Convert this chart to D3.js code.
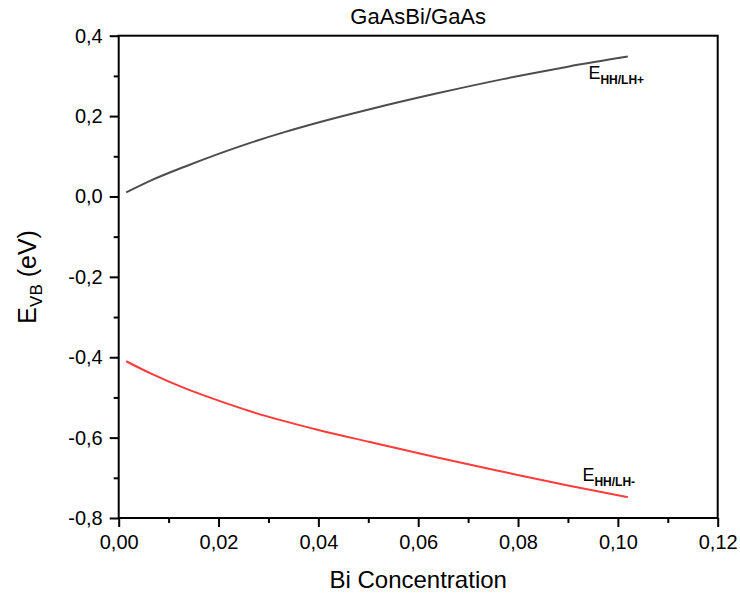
<!DOCTYPE html>
<html>
<head>
<meta charset="utf-8">
<script src="https://cdn.jsdelivr.net/npm/d3@7"></script>
<style>
    body { margin: 0; background: #fff; }
    svg { display: block; font-family: Arial, "Liberation Sans", sans-serif; }
</style>
</head>
<body>
<svg id="graph" width="740" height="597"></svg>
<script>
(function () {
    'use strict';

    // Bi concentration
    var biConc = [0.0015, 0.0065, 0.0132, 0.02, 0.0265, 0.0332, 0.04, 0.0503, 0.0636, 0.077, 0.09, 0.102];
    // E_HH/LH+ branch
    var ePlus = [0.010, 0.040, 0.074, 0.106, 0.134, 0.160, 0.184, 0.217, 0.256, 0.292, 0.323, 0.348];
    // E_HH/LH- branch
    var eMinus = [-0.410, -0.441, -0.477, -0.508, -0.535, -0.559, -0.581, -0.611, -0.649, -0.685, -0.719, -0.748];

    var xTicks = [0, 0.02, 0.04, 0.06, 0.08, 0.10, 0.12];
    var xMinor = [0.01, 0.03, 0.05, 0.07, 0.09, 0.11];
    var yTicks = [-0.8, -0.6, -0.4, -0.2, 0.0, 0.2, 0.4];
    var yMinor = [-0.7, -0.5, -0.3, -0.1, 0.1, 0.3];

    var seriesNames = ["HH/LH+", "HH/LH-"];
    var labelX = [0.0941, 0.0929];
    var labelY = [0.292, -0.709];

    var margin = { top: 35.7, right: 22.3, bottom: 79, left: 118.7 },
        width = 740 - margin.left - margin.right,
        height = 597 - margin.top - margin.bottom;

    var svg = d3.select("#graph");
    var graph = svg.append("g")
        .attr("transform", "translate(" + margin.left + "," + margin.top + ")");

    var x = d3.scaleLinear().domain([0, 0.12]).range([0, width]),
        y = d3.scaleLinear().domain([-0.8, 0.4]).range([height, 0]);

    // comma decimals, plain hyphen for negatives
    var comma = d3.formatLocale({ decimal: ",", thousands: ".", grouping: [3], currency: ["", ""], minus: "-" });

    // minor ticks
    graph.append("g")
        .attr("transform", "translate(0," + height + ")")
        .call(d3.axisBottom(x).tickValues(xMinor).tickSize(5).tickFormat(""))
        .call(function (g) { g.select(".domain").remove(); });
    graph.append("g")
        .call(d3.axisLeft(y).tickValues(yMinor).tickSize(5).tickFormat(""))
        .call(function (g) { g.select(".domain").remove(); });

    // major ticks
    graph.append("g")
        .attr("class", "x-axis")
        .attr("transform", "translate(0," + height + ")")
        .call(d3.axisBottom(x).tickValues(xTicks).tickSize(9).tickPadding(8).tickFormat(comma.format(".2f")))
        .call(function (g) { g.select(".domain").remove(); });
    graph.append("g")
        .attr("class", "y-axis")
        .call(d3.axisLeft(y).tickValues(yTicks).tickSize(9).tickPadding(7).tickFormat(comma.format(".1f")))
        .call(function (g) { g.select(".domain").remove(); });

    graph.selectAll(".tick line").attr("stroke", "#000").attr("stroke-width", 2);
    graph.selectAll(".tick text")
        .attr("fill", "#000")
        .style("font-size", "20px")
        .style("font-family", "Arial, 'Liberation Sans', sans-serif");

    // frame
    graph.append("rect")
        .attr("width", width)
        .attr("height", height)
        .attr("fill", "none")
        .attr("stroke", "#000")
        .attr("stroke-width", 2);

    var line = d3.line()
        .x(function (d) { return x(d[0]); })
        .y(function (d) { return y(d[1]); })
        .curve(d3.curveMonotoneX);

    graph.append("path")
        .datum(d3.zip(biConc, ePlus))
        .attr("fill", "none")
        .attr("stroke", "#4d4d4d")
        .attr("stroke-width", 2)
        .attr("d", line);

    graph.append("path")
        .datum(d3.zip(biConc, eMinus))
        .attr("fill", "none")
        .attr("stroke", "#ff3b3b")
        .attr("stroke-width", 2)
        .attr("d", line);

    // curve labels
    seriesNames.forEach(function (name, i) {
        var t = graph.append("text")
            .attr("x", x(labelX[i]))
            .attr("y", y(labelY[i]))
            .style("font-size", "18px")
            .text("E");
        t.append("tspan")
            .attr("dy", 5)
            .style("font-size", "12px")
            .style("font-weight", "bold")
            .text(name);
    });

    // title
    svg.append("text")
        .attr("x", margin.left + width / 2)
        .attr("y", 24)
        .attr("text-anchor", "middle")
        .style("font-size", "22px")
        .text("GaAsBi/GaAs");

    // x label
    svg.append("text")
        .attr("x", margin.left + width / 2)
        .attr("y", 588)
        .attr("text-anchor", "middle")
        .style("font-size", "24px")
        .text("Bi Concentration");

    // y label
    var yl = svg.append("text")
        .attr("transform", "translate(36," + (margin.top + height / 2) + ") rotate(-90)")
        .attr("text-anchor", "middle")
        .style("font-size", "25px")
        .text("E");
    yl.append("tspan")
        .attr("dy", 6)
        .style("font-size", "17px")
        .text("VB");
    yl.append("tspan")
        .attr("dy", -6)
        .text(" (eV)");
})();
</script>
</body>
</html>
